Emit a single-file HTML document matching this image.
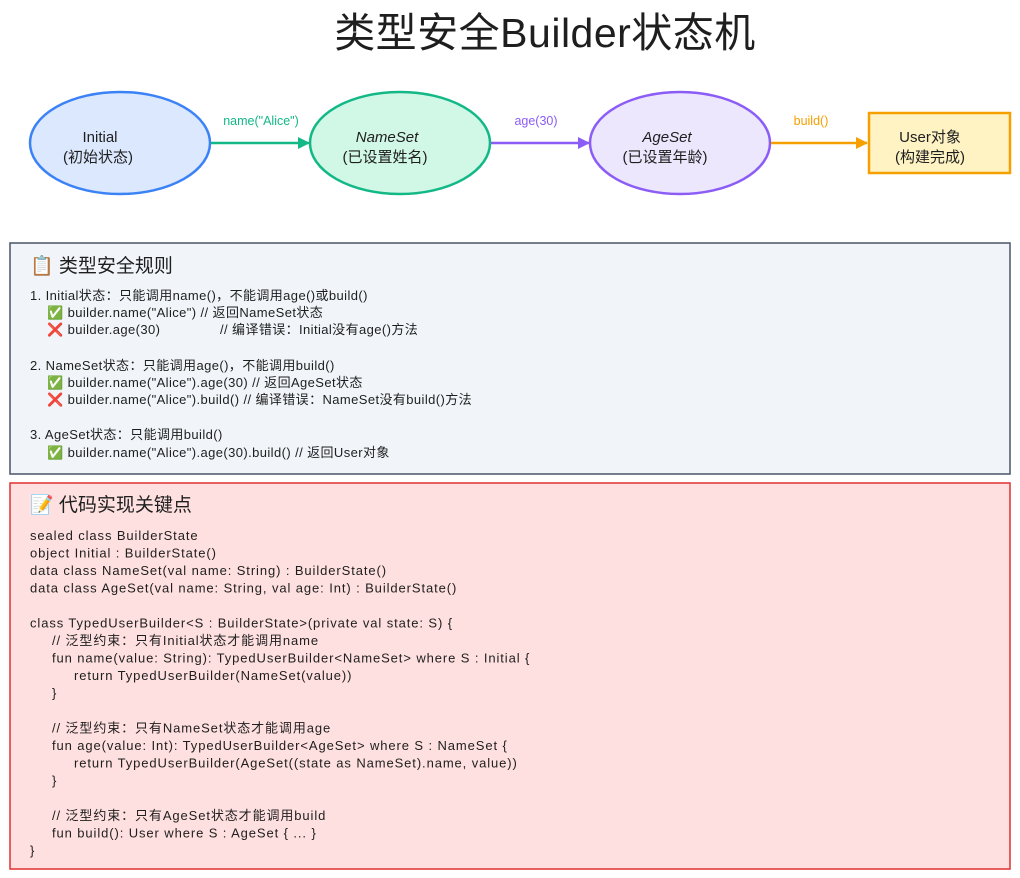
<!DOCTYPE html>
<html><head><meta charset="utf-8"><style>
html,body{margin:0;padding:0;background:#fff;}
svg{display:block;}
text{font-family:"Liberation Sans","Noto Sans CJK SC",sans-serif;fill:#1e1e1e;}
.r{font-size:13px;letter-spacing:0.4px;}
.c{font-size:13px;letter-spacing:0.9px;}
</style></head><body>
<svg width="1020" height="878" viewBox="0 0 1020 878" xmlns="http://www.w3.org/2000/svg">
<defs>
<marker id="ag" markerWidth="12" markerHeight="12" refX="11" refY="6" orient="auto" markerUnits="userSpaceOnUse"><path d="M0,0 L12,6 L0,12 Z" fill="#12b886"/></marker>
<marker id="ap" markerWidth="12" markerHeight="12" refX="11" refY="6" orient="auto" markerUnits="userSpaceOnUse"><path d="M0,0 L12,6 L0,12 Z" fill="#8b5cf6"/></marker>
<marker id="ao" markerWidth="12" markerHeight="12" refX="11" refY="6" orient="auto" markerUnits="userSpaceOnUse"><path d="M0,0 L12,6 L0,12 Z" fill="#f59f00"/></marker>
</defs>
<text x="545" y="47" font-size="41" text-anchor="middle" letter-spacing="0.5">类型安全Builder状态机</text>

<ellipse cx="120" cy="143" rx="90" ry="51" fill="#dbe8fd" stroke="#3b82f6" stroke-width="2.5"/>
<text x="100" y="142" font-size="15" text-anchor="middle">Initial</text>
<text x="98" y="162" font-size="15" text-anchor="middle">(初始状态)</text>

<ellipse cx="400" cy="143" rx="90" ry="51" fill="#d1f7e6" stroke="#12b886" stroke-width="2.5"/>
<text x="387" y="142" font-size="15" text-anchor="middle" font-style="italic">NameSet</text>
<text x="385" y="162" font-size="15" text-anchor="middle">(已设置姓名)</text>

<ellipse cx="680" cy="143" rx="90" ry="51" fill="#ece7fd" stroke="#8b5cf6" stroke-width="2.5"/>
<text x="667" y="142" font-size="15" text-anchor="middle" font-style="italic">AgeSet</text>
<text x="665" y="162" font-size="15" text-anchor="middle">(已设置年龄)</text>

<rect x="869" y="113" width="141" height="60" fill="#fff3c4" stroke="#f59f00" stroke-width="2.5"/>
<text x="930" y="142" font-size="15" text-anchor="middle">User对象</text>
<text x="930" y="162" font-size="15" text-anchor="middle">(构建完成)</text>

<line x1="211" y1="143" x2="309" y2="143" stroke="#12b886" stroke-width="2.5" marker-end="url(#ag)"/>
<text x="261" y="125" font-size="12.5" text-anchor="middle" style="fill:#12b886">name("Alice")</text>
<line x1="491" y1="143" x2="589" y2="143" stroke="#8b5cf6" stroke-width="2.5" marker-end="url(#ap)"/>
<text x="536" y="125" font-size="12.5" text-anchor="middle" style="fill:#8b5cf6">age(30)</text>
<line x1="771" y1="143" x2="867" y2="143" stroke="#f59f00" stroke-width="2.5" marker-end="url(#ao)"/>
<text x="811" y="125" font-size="12.5" text-anchor="middle" style="fill:#f59f00">build()</text>

<rect x="10" y="243" width="1000" height="231" fill="#f1f5f9" stroke="#4a5568" stroke-width="1.5"/>
<text x="30" y="272" font-size="19">📋 类型安全规则</text>
<g class="r">
<text x="30" y="300">1. Initial状态：只能调用name()，不能调用age()或build()</text>
<text x="47" y="317">✅ builder.name("Alice")  // 返回NameSet状态</text>
<text x="47" y="334">❌ builder.age(30)</text><text x="220" y="334">// 编译错误：Initial没有age()方法</text>
<text x="30" y="370">2. NameSet状态：只能调用age()，不能调用build()</text>
<text x="47" y="387">✅ builder.name("Alice").age(30)  // 返回AgeSet状态</text>
<text x="47" y="404">❌ builder.name("Alice").build()  // 编译错误：NameSet没有build()方法</text>
<text x="30" y="439">3. AgeSet状态：只能调用build()</text>
<text x="47" y="457">✅ builder.name("Alice").age(30).build()  // 返回User对象</text>
</g>

<rect x="10" y="483" width="1000" height="386" fill="#ffe0e0" stroke="#e03131" stroke-width="1.5"/>
<text x="30" y="511" font-size="19">📝 代码实现关键点</text>
<g class="c">
<text x="30" y="540">sealed class BuilderState</text>
<text x="30" y="557.5">object Initial : BuilderState()</text>
<text x="30" y="575">data class NameSet(val name: String) : BuilderState()</text>
<text x="30" y="592.5">data class AgeSet(val name: String, val age: Int) : BuilderState()</text>
<text x="30" y="627.5">class TypedUserBuilder&lt;S : BuilderState&gt;(private val state: S) {</text>
<text x="52" y="645">// 泛型约束：只有Initial状态才能调用name</text>
<text x="52" y="662.5">fun name(value: String): TypedUserBuilder&lt;NameSet&gt; where S : Initial {</text>
<text x="74" y="680">return TypedUserBuilder(NameSet(value))</text>
<text x="52" y="697.5">}</text>
<text x="52" y="732.5">// 泛型约束：只有NameSet状态才能调用age</text>
<text x="52" y="750">fun age(value: Int): TypedUserBuilder&lt;AgeSet&gt; where S : NameSet {</text>
<text x="74" y="767.5">return TypedUserBuilder(AgeSet((state as NameSet).name, value))</text>
<text x="52" y="785">}</text>
<text x="52" y="820">// 泛型约束：只有AgeSet状态才能调用build</text>
<text x="52" y="837.5">fun build(): User where S : AgeSet { ... }</text>
<text x="30" y="855">}</text>
</g>
</svg>
</body></html>
